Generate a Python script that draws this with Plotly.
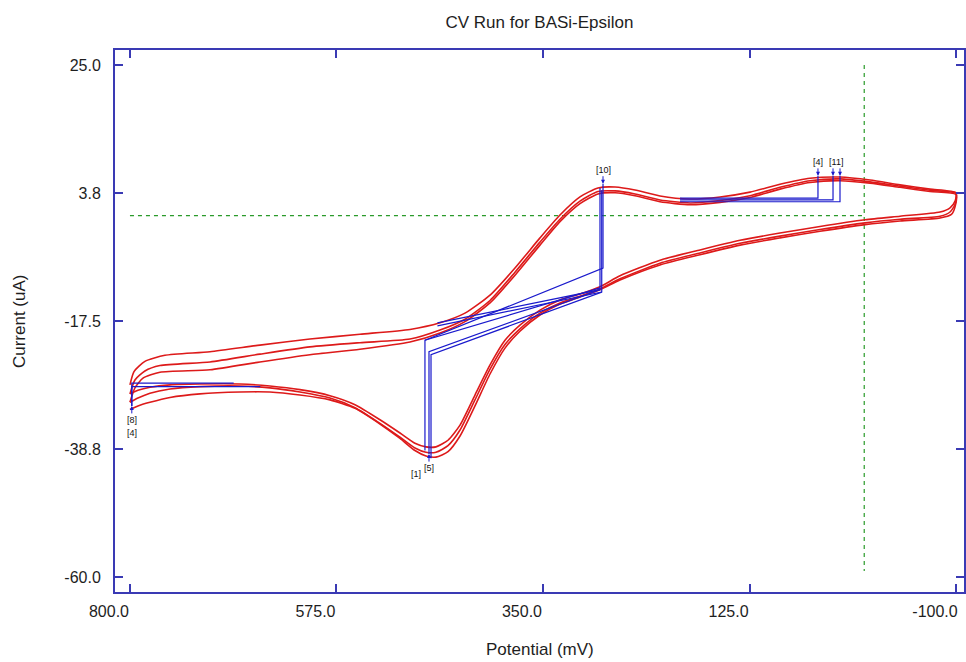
import plotly.graph_objects as go

# ---------------- data (potential in mV, current in uA) ----------------
c1_V = [800, 795.6, 783.7, 761.9, 712.8, 658.4, 603.9, 549.4, 494.9, 462.2, 435.0, 407.7, 380.5, 353.3,
        331.5, 309.7, 290.1, 271.5, 249.8, 222.5, 189.8, 157.1, 124.4, 91.8, 59.1, 26.4, -6.3, -39.0, -71.7, -100,
        -99, -93.5, -82.6, -39.0, -0.9, 48.2, 91.8, 135.3, 178.9, 222.5, 266.1, 287.9, 309.7, 331.5, 353.3,
        375.1, 391.4, 407.7, 424.1, 440.4, 453.5, 466.6, 477.5, 489.5, 505.8, 527.6, 554.8, 582.1, 614.8,
        647.5, 680.1, 723.7, 756.4, 778.2, 791.3, 800]
c1_I = [-28.1, -25.9, -24.2, -23.2, -22.6, -21.5, -20.5, -19.7, -18.9, -17.8, -16.2, -13.2, -8.7, -3.7,
        0.1, 3.1, 4.6, 4.75, 4.25, 3.25, 2.75, 3.09, 3.9, 5.2, 6.2, 6.4, 5.9, 5.1, 4.4, 3.8,
        2.4, 1.3, 0.6, -0.1, -0.7, -1.8, -2.9, -4.1, -5.7, -7.4, -10.0, -11.8, -13.0, -14.0, -15.7,
        -18.2, -20.7, -24.8, -29.8, -34.8, -37.3, -38.4, -38.4, -37.8, -36.1, -33.9, -31.4, -29.9, -28.9,
        -28.3, -27.96, -27.96, -28.1, -28.5, -29.0, -29.6]

c2_V = [800, 794.6, 783.7, 767.3, 712.8, 658.4, 603.9, 549.4, 494.9, 462.2, 435.0, 407.7, 380.5, 353.3,
        331.5, 309.7, 290.1, 271.5, 249.8, 222.5, 189.8, 157.1, 124.4, 91.8, 59.1, 26.4, -6.3, -39.0, -71.7, -100,
        -99, -93.5, -82.6, -39.0, -0.9, 48.2, 91.8, 135.3, 178.9, 222.5, 266.1, 287.9, 309.7, 331.5, 353.3,
        375.1, 391.4, 407.7, 424.1, 440.4, 453.5, 466.6, 477.5, 489.5, 505.8, 527.6, 554.8, 582.1, 614.8,
        647.5, 680.1, 723.7, 756.4, 778.2, 791.3, 800]
c2_I = [-29.6, -27.3, -25.8, -24.9, -24.3, -23.0, -21.8, -21.1, -20.5, -19.0, -17.2, -14.1, -9.4, -4.4,
        -0.6, 2.4, 4.0, 4.1, 3.6, 2.6, 2.1, 2.5, 3.3, 4.7, 5.8, 6.1, 5.6, 4.9, 4.2, 3.7,
        1.9, 0.6, -0.1, -0.6, -1.2, -2.3, -3.4, -4.6, -6.2, -7.9, -10.5, -12.2, -13.4, -14.5, -16.2,
        -18.8, -21.4, -25.5, -30.6, -35.6, -38.2, -39.3, -39.3, -38.6, -36.8, -34.5, -31.9, -30.3, -29.3,
        -28.6, -28.3, -28.4, -28.8, -29.5, -30.3, -31.0]

c3_V = [800, 794.6, 785.8, 767.3, 712.8, 658.4, 603.9, 549.4, 494.9, 462.2, 435.0, 407.7, 380.5, 353.3,
        331.5, 309.7, 290.1, 271.5, 249.8, 222.5, 189.8, 157.1, 124.4, 91.8, 59.1, 26.4, -6.3, -39.0, -71.7, -100,
        -99, -95, -82.6, -39.0, -0.9, 48.2, 91.8, 135.3, 178.9, 222.5, 266.1, 287.9, 309.7, 331.5, 353.3,
        375.1, 391.4, 407.7, 424.1, 440.4, 453.5, 466.6, 477.5, 489.5, 505.8, 527.6, 554.8, 582.1, 614.8,
        647.5, 680.1, 723.7, 756.4, 778.2, 791.3, 800]
c3_I = [-31.0, -28.6, -27.0, -26.0, -25.6, -24.3, -23.1, -22.2, -21.0, -19.5, -17.6, -14.5, -9.9, -4.9,
        -1.0, 2.0, 3.6, 3.8, 3.3, 2.3, 1.8, 2.2, 3.0, 4.4, 5.5, 5.8, 5.4, 4.7, 4.0, 3.5,
        1.5, 0.2, -0.4, -0.9, -1.5, -2.6, -3.7, -4.9, -6.5, -8.2, -10.7, -12.3, -13.5, -14.7, -16.5,
        -19.2, -22.0, -26.3, -31.6, -36.6, -39.2, -40.1, -39.9, -39.0, -37.0, -34.6, -32.0, -30.6, -29.8,
        -29.3, -29.3, -29.6, -30.2, -31.0, -31.6, -32.2]

# peak baselines (blue)
ox_base_V0 = [478.6, 465.0, 465.0]
ox_base_I0 = [-20.7, -17.8, -18.3]
ox_peak_V = [284.6, 287.9, 286.0]
ox_base_I = [-8.7, -12.3, -12.7]
ox_peak_I = [5.3, 4.6, 4.2]

red_base_V0 = [287.9, 287.9, 286.0]
red_base_I0 = [-12.0, -12.3, -12.7]
red_peak_V = [478.6, 474.2, 472.0]
red_base_I = [-20.7, -22.6, -23.1]
red_peak_I = [-39.0, -39.6, -40.3]

rt_base_V0 = [200.7, 200.7, 200.7]
rt_peak_V = [50.4, 34.0, 26.4]
rt_base_I = [2.9, 2.6, 2.3]
rt_peak_I = [6.6, 6.6, 6.6]

lf_peak_V = [798.0, 798.0]
lf_base_V1 = [687.0, 658.0]
lf_base_I = [-27.8, -28.4]
lf_peak_I = [-31.6, -31.6]

cross_V = 0.0
cross_I = 0.0

x_ticks = [800, 575, 350, 125, -100]
x_ticklabels = ["800.0", "575.0", "350.0", "125.0", "-100.0"]
y_ticks = [25.0, 3.75, -17.5, -38.75, -60.0]
y_ticklabels = ["25.0", "3.8", "-17.5", "-38.8", "-60.0"]

RED = "#dd1a1a"
BLUE = "#1a1acc"
AXIS = "#3a3ab4"
GREEN = "#2a9a2a"
TXT = "#1e1e1e"

fig = go.Figure()

# crosshair
fig.add_trace(go.Scatter(x=[800, cross_V], y=[cross_I, cross_I], mode="lines",
                         line=dict(color=GREEN, width=1.2, dash="4px,4px"), hoverinfo="skip"))
fig.add_trace(go.Scatter(x=[cross_V, cross_V], y=[25, -59], mode="lines",
                         line=dict(color=GREEN, width=1.2, dash="4px,4px"), hoverinfo="skip"))

for V, I in [(c1_V, c1_I), (c2_V, c2_I), (c3_V, c3_I)]:
    fig.add_trace(go.Scatter(x=V, y=I, mode="lines",
                             line=dict(color=RED, width=1.6, shape="spline", smoothing=0.6)))

bx, by = [], []
for k in range(3):
    bx += [ox_base_V0[k], ox_peak_V[k], ox_peak_V[k], None]
    by += [ox_base_I0[k], ox_base_I[k], ox_peak_I[k], None]
    bx += [red_base_V0[k], red_peak_V[k], red_peak_V[k], None]
    by += [red_base_I0[k], red_base_I[k], red_peak_I[k], None]
    bx += [rt_base_V0[k], rt_peak_V[k], rt_peak_V[k], None]
    by += [rt_base_I[k], rt_base_I[k], rt_peak_I[k], None]
for k in range(2):
    bx += [lf_base_V1[k], lf_peak_V[k], lf_peak_V[k], None]
    by += [lf_base_I[k], lf_base_I[k], lf_peak_I[k], None]
fig.add_trace(go.Scatter(x=bx, y=by, mode="lines", line=dict(color=BLUE, width=1.2)))

ann = []
def lab(x, y, text, ay, ax=0):
    ann.append(dict(x=x, y=y, xref="x", yref="y", text=text, showarrow=True, arrowhead=2, arrowsize=0.8,
                    arrowwidth=1, arrowcolor=BLUE, ax=ax, ay=ay, font=dict(size=9, color="#111")))

lab(ox_peak_V[0], ox_peak_I[0], "[10]", -14)
lab(red_peak_V[1], red_peak_I[1], "[5]", 14)
lab(rt_peak_V[0], rt_peak_I[0], "[4]", -14)
lab(rt_peak_V[1], rt_peak_I[1], "[1", -14)
lab(rt_peak_V[2], rt_peak_I[2], "1]", -14)
lab(lf_peak_V[0], lf_peak_I[0], "[8]", 14)
ann.append(dict(x=lf_peak_V[0], y=lf_peak_I[0], xref="x", yref="y", text="[4]", showarrow=False,
                yshift=-27, font=dict(size=9, color="#111")))
ann.append(dict(x=red_peak_V[0], y=red_peak_I[0], xref="x", yref="y", text="[1]", showarrow=False,
                yshift=-24, xshift=-9, font=dict(size=9, color="#111")))

ann.append(dict(x=0.5, y=-0.107, xref="paper", yref="paper", text="Potential (mV)", showarrow=False,
                font=dict(size=17, color=TXT), yanchor="middle"))
ann.append(dict(x=-0.113, y=0.5, xref="paper", yref="paper", text="Current (uA)", showarrow=False,
                textangle=-90, font=dict(size=17, color=TXT), xanchor="center", yanchor="middle"))

axis_common = dict(showline=True, linecolor=AXIS, linewidth=2, mirror="ticks", ticks="inside",
                   ticklen=8, tickwidth=1.5, tickcolor=AXIS, showgrid=False, zeroline=False,
                   tickfont=dict(size=16, color=TXT), ticklabeloverflow="allow", automargin=False)

fig.update_layout(
    width=966, height=662,
    margin=dict(l=115, r=2, t=50, b=70, autoexpand=False),
    paper_bgcolor="white", plot_bgcolor="white",
    font=dict(family="Liberation Sans, Arial, sans-serif"),
    showlegend=False,
    title=dict(text="CV Run for BASi-Epsilon", x=0.5, xref="paper", y=1 - 22 / 662, yref="container",
               yanchor="middle", font=dict(size=17, color=TXT)),
    xaxis=dict(range=[816.3, -108.7], tickvals=x_ticks, ticktext=x_ticklabels,
               ticklabelshift=21, ticklabelstandoff=4, **axis_common),
    yaxis=dict(range=[-62.5, 27.5], tickvals=y_ticks, ticktext=y_ticklabels, ticklabelstandoff=9, **axis_common),
    annotations=ann,
)

fig.write_html("out.html")
